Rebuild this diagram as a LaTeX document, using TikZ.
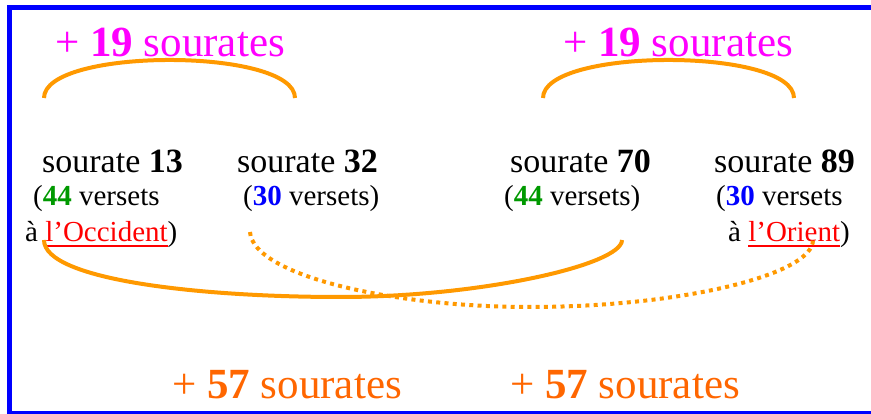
\documentclass[tikz,border=0pt]{standalone}
\usepackage{fontspec}
\setmainfont{Liberation Serif}
\definecolor{frameblue}{HTML}{0000FF}
\definecolor{plusmag}{HTML}{FF00FF}
\definecolor{arcorange}{HTML}{FF9900}
\definecolor{sumorange}{HTML}{FF6600}
\definecolor{versgreen}{HTML}{009900}
\definecolor{versblue}{HTML}{0000FF}
\definecolor{placered}{HTML}{FF0000}
% red text with a red rule a little below the baseline
\newcommand\redul[1]{\textcolor{placered}{\setbox0=\hbox{#1}\rlap{\rule[-4.6pt]{\wd0}{1.3pt}}\box0}}
\tikzset{
  txt/.style={inner sep=0pt, anchor=base west},
  head/.style={txt, font=\fontsize{34}{40}\selectfont},
  sub/.style={txt, font=\fontsize{29}{34}\selectfont},
  big/.style={txt, font=\fontsize{43}{50}\selectfont},
  arcline/.style={draw=arcorange, line width=4pt},
  dotline/.style={draw=arcorange, line width=4pt, dash pattern=on 4pt off 4.3pt},
}
\begin{document}
\begin{tikzpicture}[x=1pt, y=-1pt]
\useasboundingbox (0,0) rectangle (871,414);
% frame
\draw[frameblue, line width=5pt] (9.5,7.5) rectangle (885,413);

% headings over the pairs
\node[big, text=plusmag] (p19a) at (55,57) {+ \textbf{19} sourates};
\node[big, text=plusmag] (p19b) at (563,57) {+ \textbf{19} sourates};

% the four sourates
\node[head] (s13) at (42,173) {sourate \textbf{13}};
\node[sub]  (v13) at (33,206) {(\textcolor{versgreen}{\textbf{44}} versets};
\node[sub]  (w13) at (25,242) {à \redul{l’Occident})};

\node[head] (s32) at (237,173) {sourate \textbf{32}};
\node[sub]  (v32) at (243,206) {(\textcolor{versblue}{\textbf{30}} versets)};

\node[head] (s70) at (510,173) {sourate \textbf{70}};
\node[sub]  (v70) at (504,206) {(\textcolor{versgreen}{\textbf{44}} versets)};

\node[head] (s89) at (714,173) {sourate \textbf{89}};
\node[sub]  (v89) at (716,206) {(\textcolor{versblue}{\textbf{30}} versets};
\node[sub]  (w89) at (728,242) {à \redul{l’Orient})};

% totals at the bottom
\node[big, text=sumorange] (p57a) at (172,399) {+ \textbf{57} sourates};
\node[big, text=sumorange] (p57b) at (510,399) {+ \textbf{57} sourates};

% connector end points
\coordinate (t13) at (44,98);
\coordinate (t32) at (295,98);
\coordinate (t70) at (543,98);
\coordinate (t89) at (794,98);
\coordinate (occ) at (44,240);
\coordinate (b70) at (622,240);
\coordinate (low1) at (340,297);
\coordinate (b32) at (250,232);
\coordinate (ori) at (813,240);
\coordinate (low2) at (530,307);

% arcs above the pairs
\draw[arcline] (t13) .. controls (44,47.3) and (295,47.3) .. (t32);
\draw[arcline] (t70) .. controls (543,47.3) and (794,47.3) .. (t89);

% solid link 13 -> 70
\draw[arcline] (occ) .. controls (44,280) and (200,297) .. (low1)
                     .. controls (480,297) and (622,265) .. (b70);
% dotted link 32 -> 89
\draw[dotline] (b32) .. controls (253,275) and (390,307) .. (low2)
                     .. controls (680,307) and (813,275) .. (ori);
\end{tikzpicture}
\end{document}
